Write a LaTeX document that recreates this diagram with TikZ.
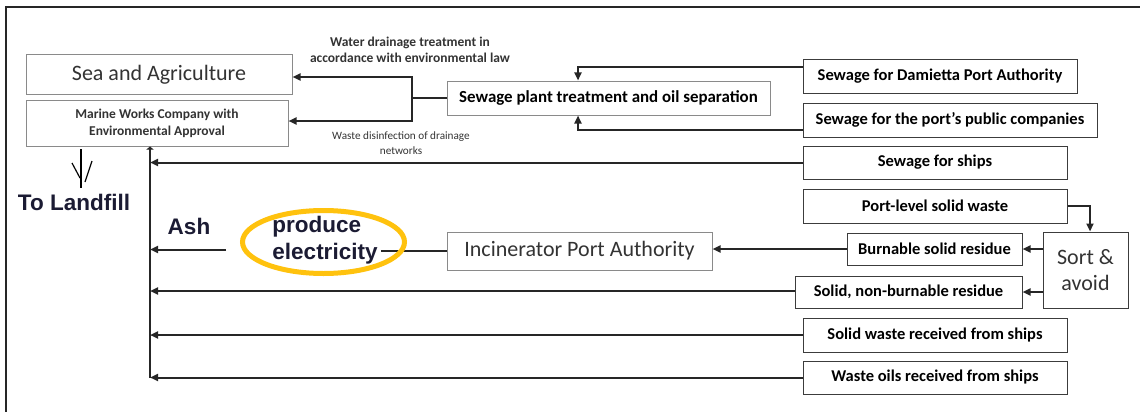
\documentclass[tikz,border=0pt]{standalone}
\usepackage{fontspec}
\setmainfont{Carlito}
\newfontfamily\arialfont{Liberation Sans}
\usetikzlibrary{arrows.meta,calc,shapes.geometric}

\definecolor{boxgray}{HTML}{8A8A8A}
\definecolor{boxdark}{HTML}{3C3C3C}
\definecolor{linedark}{HTML}{262626}
\definecolor{textdark}{HTML}{333333}
\definecolor{navytext}{HTML}{1B1B33}
\definecolor{ringyellow}{HTML}{FFC20E}

\tikzset{
  box/.style={draw=boxgray, line width=1pt, fill=white, inner sep=0pt,
    align=center, text=textdark},
  rbox/.style={box, draw=boxdark, text=black,
    font=\bfseries\fontsize{16.5}{18}\selectfont},
  conn/.style={draw=linedark, line width=2pt},
  arr/.style={conn, -{Triangle[length=8pt,width=7pt]}},
  note/.style={inner sep=0pt, align=center, text=textdark},
  bigtag/.style={inner sep=0pt, align=left, text=navytext,
    font=\arialfont\bfseries\fontsize{22.5}{27}\selectfont},
}

\begin{document}
\begin{tikzpicture}[x=1pt,y=-1pt]
\useasboundingbox (0,0) rectangle (1140,412);

% frame
\draw[line width=1.6pt, draw=linedark] (6,412) -- (6,7) -- (1140,7);

% destinations on the left
\node[box, minimum width=266pt, minimum height=39pt,
  font=\fontsize{22}{24}\selectfont] (sea) at (159,74.5) {Sea and Agriculture};
\node[box, minimum width=262pt, minimum height=46pt,
  font=\bfseries\fontsize{13.5}{17}\selectfont] (marine) at (157,123)
  {Marine Works Company with\\Environmental Approval};

% treatment plant
\node[box, minimum width=323pt, minimum height=34pt,
  font=\bfseries\fontsize{16.9}{18}\selectfont, text=black] (plant) at (608.5,98)
  {Sewage plant treatment and oil separation};

% sources on the right
\node[rbox, minimum width=274pt, minimum height=33pt] (damietta) at (940,76.5)
  {Sewage for Damietta Port Authority};
\node[rbox, minimum width=294pt, minimum height=34pt] (public) at (950,120)
  {Sewage for the port's public companies};
\node[rbox, minimum width=264pt, minimum height=33pt] (ships) at (935,162.5)
  {Sewage for ships};
\node[rbox, minimum width=264pt, minimum height=34pt] (portlevel) at (935,206)
  {Port-level solid waste};
\node[box, draw=boxdark, minimum width=85pt, minimum height=76pt,
  font=\fontsize{22}{26}\selectfont] (sort) at (1085.5,270) {Sort \&\\avoid};
\node[rbox, minimum width=175pt, minimum height=32pt] (burnable) at (934.5,249)
  {Burnable solid residue};
\node[rbox, minimum width=227pt, minimum height=32pt] (nonburn) at (908.5,292)
  {Solid, non-burnable residue};
\node[rbox, minimum width=264pt, minimum height=34pt] (solidships) at (935,335)
  {Solid waste received from ships};
\node[rbox, minimum width=264pt, minimum height=33pt] (oils) at (935,377.5)
  {Waste oils received from ships};

% incinerator
\node[box, minimum width=265pt, minimum height=38pt,
  font=\fontsize{22}{24}\selectfont] (incin) at (579.5,251)
  {Incinerator Port Authority};

% notes
\node[note, font=\bfseries\fontsize{13.5}{16}\selectfont] (lawnote) at (410,50)
  {Water drainage treatment in\\accordance with environmental law};
\node[note, font=\fontsize{11.2}{15}\selectfont] (netnote) at (401,143)
  {Waste disinfection of drainage\\networks};

% spine collecting the flows to the marine works company
\coordinate (sp) at (150,0);
\coordinate (spbot) at (150,377.5);
\draw[conn, -{Triangle[length=3pt,width=7pt]}] (spbot) -- (marine.south -| sp);

% sewage to the plant
\draw[arr] ([yshift=9.5pt]damietta.west) -| ([xshift=-30.5pt]plant.north);
\draw[arr] ([yshift=-10pt]public.west) -| ([xshift=-30.5pt]plant.south);

% plant outputs
\draw[conn] (plant.west) -- (412,98) coordinate (j);
\draw[arr] (j) |- ([yshift=-2.5pt]sea.east);
\draw[arr] (j) |- ([yshift=2pt]marine.east);

% solid waste sorting
\draw[arr] (portlevel.east) -| ([xshift=4.5pt]sort.north);
\draw[arr] (sort.west |- burnable.east) -- (burnable.east);
\draw[arr] (sort.west |- nonburn.east) -- (nonburn.east);
\draw[arr] (burnable.west) -- (incin.east |- burnable.west);

% flows into the spine
\draw[arr] (ships.west) -- (ships.west -| sp);
\draw[arr] ([yshift=1pt]nonburn.west) -- ([yshift=1pt]nonburn.west -| sp);
\draw[arr] (solidships.west) -- (solidships.west -| sp);
\draw[arr] (oils.west) -- (oils.west -| sp);

% incinerator output, electricity and ash
\coordinate (ashstart) at (226,249.5);
\draw[conn] (incin.west) -- (381,251);
\draw[arr] (ashstart) -- (ashstart -| sp);
\node[draw=ringyellow, line width=5pt, ellipse, inner sep=0pt,
  minimum width=162pt, minimum height=63pt] (ring) at (323.5,242) {};
\node[bigtag] (elec) at (325,240) {produce\\electricity};
\node[bigtag] (ash) at (189,226) {Ash};
\node[bigtag] (landfill) at (74,202) {To Landfill};

% hand-drawn arrow towards the landfill
\coordinate (ltop) at (81,149);
\coordinate (lbot) at (81,188);
\draw[line width=1.2pt] (ltop) -- (lbot);
\draw[line width=1.2pt] (72,163) -- (80,178);
\draw[line width=1.2pt] (92,161) -- (85,182);
\end{tikzpicture}
\end{document}
